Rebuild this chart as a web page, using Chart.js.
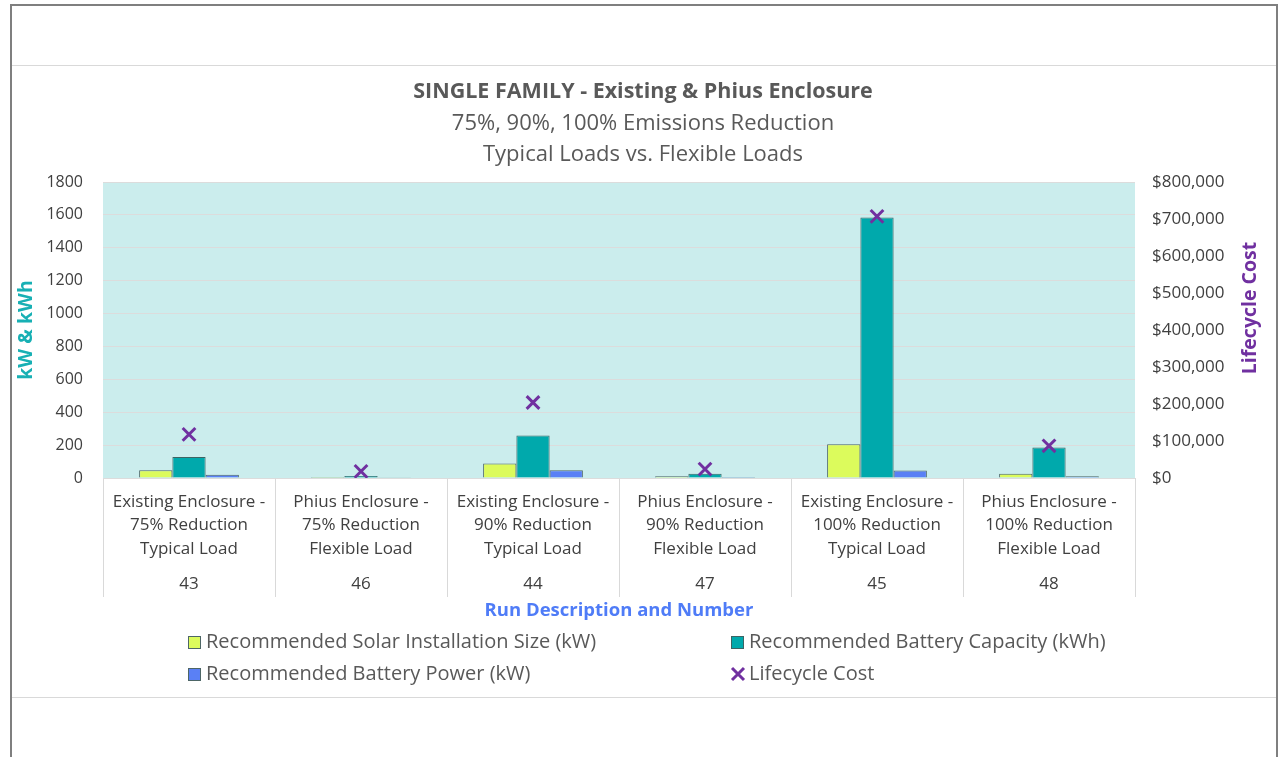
<!DOCTYPE html>
<html>
<head>
<meta charset="utf-8">
<script src="https://cdn.jsdelivr.net/npm/chart.js@4"></script>
<style>
  html, body { margin: 0; padding: 0; background: #ffffff; width: 1284px; height: 757px; overflow: hidden; }
  #frame { position: absolute; left: 10px; top: 4px; width: 1264px; height: 800px; border: 2px solid #7f7f7f; border-bottom: none; }
  .hline { position: absolute; left: 12px; width: 1264px; height: 1px; background: #d9d9d9; }
  #c { position: absolute; left: 12px; top: 66px; }
</style>
</head>
<body>
<div id="frame"></div>
<div class="hline" style="top:65px"></div>
<div class="hline" style="top:697px"></div>
<canvas id="c" width="1262" height="630"></canvas>
<script>
// ---- data ----
const categories = [
  ["Existing Enclosure -", "75% Reduction", "Typical Load"],
  ["Phius Enclosure -", "75% Reduction", "Flexible Load"],
  ["Existing Enclosure -", "90% Reduction", "Typical Load"],
  ["Phius Enclosure -", "90% Reduction", "Flexible Load"],
  ["Existing Enclosure -", "100% Reduction", "Typical Load"],
  ["Phius Enclosure -", "100% Reduction", "Flexible Load"]
];
const runNumbers = ["43", "46", "44", "47", "45", "48"];
const solarKW = [47, 6, 88, 10, 205, 26];
const batteryKWh = [128, 12, 259, 26, 1584, 186];
const batteryKW = [20, 4, 47, 6, 45, 10];
const lifecycleCost = [118000, 18000, 204000, 24000, 707000, 87000];
const leftTicks = { min: 0, max: 1800, step: 200 };
const rightTicks = { min: 0, max: 800000, step: 100000 };
const rightAxisTitle = 'Lifecycle Cost';

const FONT = "'Open Sans', sans-serif";
const TXT = '#404040';

const plotBg = {
  id: 'plotBg',
  beforeDraw(chart) {
    const { ctx, chartArea: a } = chart;
    ctx.save();
    ctx.fillStyle = '#cbeded';
    ctx.fillRect(a.left, a.top, a.right - a.left, a.bottom - a.top);
    ctx.restore();
  }
};

// right axis title, reading bottom-to-top like the left one
const rightTitle = {
  id: 'rightTitle',
  afterDraw(chart) {
    const { ctx, chartArea: a } = chart;
    const s = chart.scales.y1;
    ctx.save();
    ctx.translate(s.right - 24, (a.top + a.bottom) / 2 - 22);
    ctx.rotate(-Math.PI / 2);
    ctx.font = "bold 19.5px " + FONT;
    ctx.fillStyle = '#7030a0';
    ctx.textAlign = 'center';
    ctx.textBaseline = 'middle';
    ctx.fillText(rightAxisTitle, 0, 0);
    ctx.restore();
  }
};

const gridLegend = {
  id: 'gridLegend',
  afterDraw(chart) {
    const ctx = chart.ctx;
    const ds = chart.data.datasets;
    const cols = [176, 719];
    const rows = [576, 608];
    ctx.save();
    ctx.font = "20px " + FONT;
    ctx.textBaseline = 'middle';
    ctx.textAlign = 'left';
    ds.forEach((d, i) => {
      const x = cols[i % 2], y = rows[Math.floor(i / 2)];
      if (d.type === 'line') {
        ctx.strokeStyle = d.borderColor;
        ctx.lineWidth = 3;
        ctx.beginPath();
        ctx.moveTo(x + 1, y - 6); ctx.lineTo(x + 13, y + 6);
        ctx.moveTo(x + 13, y - 6); ctx.lineTo(x + 1, y + 6);
        ctx.stroke();
      } else {
        ctx.fillStyle = d.backgroundColor;
        ctx.fillRect(x, y - 6, 13, 13);
        ctx.strokeStyle = d.borderColor;
        ctx.lineWidth = 1;
        ctx.strokeRect(x + 0.5, y - 5.5, 12, 12);
      }
      ctx.fillStyle = '#595959';
      ctx.fillText(d.label, x + 18, y);
    });
    ctx.restore();
  }
};

new Chart(document.getElementById('c'), {
  type: 'bar',
  data: {
    labels: categories,
    datasets: [
      { label: 'Recommended Solar Installation Size (kW)', data: solarKW, backgroundColor: '#dcfb5c', borderColor: '#4d6666', borderWidth: 1, yAxisID: 'y', order: 1 },
      { label: 'Recommended Battery Capacity (kWh)', data: batteryKWh, backgroundColor: '#00a9ac', borderColor: '#3d6464', borderWidth: 1, yAxisID: 'y', order: 1 },
      { label: 'Recommended Battery Power (kW)', data: batteryKW, backgroundColor: '#5a80f5', borderColor: '#4d6666', borderWidth: 1, yAxisID: 'y', order: 1 },
      { type: 'line', label: 'Lifecycle Cost', data: lifecycleCost, showLine: false, pointStyle: 'crossRot', pointRadius: 9, pointHoverRadius: 9, borderColor: '#7030a0', backgroundColor: '#7030a0', pointBorderWidth: 3, yAxisID: 'y1', order: 0 }
    ]
  },
  options: {
    responsive: false,
    animation: false,
    layout: { padding: { left: 0, right: 0, top: 0, bottom: 74 } },
    datasets: { bar: { categoryPercentage: 0.58, barPercentage: 1 } },
    plugins: {
      legend: { display: false },
      tooltip: { enabled: false },
      title: {
        display: true,
        text: 'SINGLE FAMILY - Existing & Phius Enclosure',
        color: '#595959',
        font: { family: FONT, size: 21.5, weight: 'bold', lineHeight: '26px' },
        padding: { top: 13, bottom: 0 }
      },
      subtitle: {
        display: true,
        text: ['75%, 90%, 100% Emissions Reduction', 'Typical Loads vs. Flexible Loads'],
        color: '#595959',
        font: { family: FONT, size: 22, lineHeight: '31px' },
        padding: { top: 3.5, bottom: 11.5 }
      }
    },
    scales: {
      x: {
        type: 'category',
        position: 'bottom',
        weight: 0,
        offset: true,
        grid: { display: true, drawOnChartArea: false, offset: true, drawTicks: true, tickLength: 119, color: '#d9d9d9', lineWidth: 1 },
        border: { display: false },
        ticks: { color: TXT, font: { family: FONT, size: 17, lineHeight: '23.5px' }, maxRotation: 0, autoSkip: false, padding: -107 },
        afterFit: (s) => { s.height = 83; }
      },
      x2: {
        type: 'category',
        labels: runNumbers,
        position: 'bottom',
        weight: 1,
        offset: true,
        grid: { display: false },
        border: { display: false },
        ticks: { color: TXT, font: { family: FONT, size: 17, lineHeight: '23.5px' }, maxRotation: 0, autoSkip: false, padding: 3.25 },
        title: { display: true, text: 'Run Description and Number', color: '#4f7cf7', font: { family: FONT, size: 18.5, weight: 'bold', lineHeight: 1.2 }, padding: { top: 0, bottom: 0 } },
        afterFit: (s) => { s.height = 61; }
      },
      y: {
        position: 'left',
        min: leftTicks.min, max: leftTicks.max,
        ticks: { stepSize: leftTicks.step, color: TXT, font: { family: FONT, size: 16 }, padding: 20,
          callback: (v) => String(v) },
        grid: { color: '#dcdcdc', drawTicks: false, lineWidth: 1 },
        border: { display: false },
        title: { display: true, text: 'kW & kWh', color: '#17b0b4', font: { family: FONT, size: 19.5, weight: 'bold', lineHeight: 1.2 }, padding: { top: 3, bottom: 0 } },
        afterFit: (s) => { s.width = 91; }
      },
      y1: {
        position: 'right',
        min: rightTicks.min, max: rightTicks.max,
        ticks: { stepSize: rightTicks.step, color: TXT, font: { family: FONT, size: 17 }, padding: 17,
          callback: (v) => '$' + Number(v).toLocaleString('en-US') },
        grid: { drawOnChartArea: false, drawTicks: false },
        border: { display: false },
        title: { display: false },
        afterFit: (s) => { s.width = 139; }
      }
    }
  },
  plugins: [plotBg, rightTitle, gridLegend]
});
</script>
</body>
</html>
